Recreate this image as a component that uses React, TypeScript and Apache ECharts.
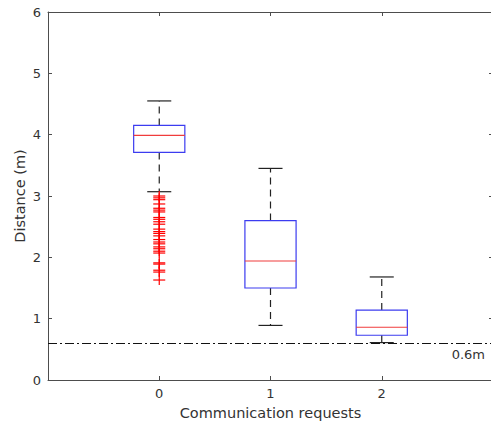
import React, { useEffect, useRef } from "react";
import * as echarts from "echarts";

const categories = [0, 1, 2];
// [min whisker, q1, median, q3, max whisker]
const boxStats = [
  [3.07, 3.71, 3.99, 4.15, 4.55],
  [0.89, 1.5, 1.94, 2.6, 3.45],
  [0.61, 0.73, 0.86, 1.14, 1.68],
];
const outliers0 = [
  3.0, 2.97, 2.94, 2.87, 2.8, 2.77, 2.74, 2.65, 2.62, 2.58, 2.54, 2.46, 2.42,
  2.39, 2.35, 2.29, 2.25, 2.22, 2.17, 2.14, 2.1, 2.07, 1.91, 1.89, 1.79, 1.76,
  1.63,
];
const thresholdValue = 0.6;
const thresholdLabel = "0.6m";
const yTicks = [0, 1, 2, 3, 4, 5, 6];

const FONT = "DejaVu Sans";
const AXIS_COLOR = "#4d4d4d";
const TEXT_COLOR = "#333333";

export default function App() {
  const ref = useRef<HTMLDivElement>(null);
  useEffect(() => {
    if (!ref.current) return;
    const chart = echarts.init(ref.current, null, { renderer: "svg" });
    const boxData = categories.map((c, i) => [c, ...boxStats[i]]);
    const outlierData = outliers0.map((v) => [categories[0], v]);
    const BOX_HALF = 0.23;
    const CAP_HALF = 0.108;
    const whiskerColor = "#222222";
    const frameLine = { show: true, onZero: false, lineStyle: { color: AXIS_COLOR, width: 1 } };
    const tick = { show: true, inside: true, length: 4, lineStyle: { color: AXIS_COLOR } };
    chart.setOption({
      animation: false,
      textStyle: { fontFamily: FONT },
      grid: { left: 48, top: 12, width: 445, height: 368, containLabel: false, outerBoundsMode: "none" },
      xAxis: [
        {
          type: "value",
          min: -1,
          max: 3,
          interval: 1,
          position: "bottom",
          axisLine: frameLine,
          axisTick: tick,
          splitLine: { show: false },
          axisLabel: {
            color: TEXT_COLOR,
            fontSize: 13,
            fontFamily: FONT,
            margin: 7,
            formatter: (v: number) => (categories.includes(v) ? String(v) : ""),
          },
          name: "Communication requests",
          nameLocation: "middle",
          nameGap: 25,
          nameMoveOverlap: false,
          nameTextStyle: { color: TEXT_COLOR, fontSize: 14.5, fontFamily: FONT },
        },
        {
          type: "value",
          min: -1,
          max: 3,
          interval: 1,
          position: "top",
          axisLine: frameLine,
          axisTick: tick,
          splitLine: { show: false },
          axisLabel: { show: false },
        },
      ],
      yAxis: [
        {
          type: "value",
          min: yTicks[0],
          max: yTicks[yTicks.length - 1],
          interval: 1,
          position: "left",
          axisLine: frameLine,
          axisTick: tick,
          splitLine: { show: false },
          axisLabel: { color: TEXT_COLOR, fontSize: 13, fontFamily: FONT, margin: 7 },
          name: "Distance (m)",
          nameLocation: "middle",
          nameGap: 21,
          nameMoveOverlap: false,
          nameTextStyle: { color: TEXT_COLOR, fontSize: 14.5, fontFamily: FONT },
        },
        {
          type: "value",
          min: yTicks[0],
          max: yTicks[yTicks.length - 1],
          interval: 1,
          position: "right",
          axisLine: frameLine,
          axisTick: tick,
          splitLine: { show: false },
          axisLabel: { show: false },
        },
      ],
      series: [
        {
          type: "custom",
          xAxisIndex: 0,
          yAxisIndex: 0,
          data: boxData,
          encode: { x: 0, y: [1, 2, 3, 4, 5] },
          renderItem: (params: any, api: any) => {
            const x = api.value(0);
            const mn = api.value(1);
            const q1 = api.value(2);
            const md = api.value(3);
            const q3 = api.value(4);
            const mx = api.value(5);
            const p = (xx: number, yy: number) => api.coord([xx, yy]);
            const bl = p(x - BOX_HALF, q3);
            const br = p(x + BOX_HALF, q1);
            const c = p(x, 0);
            const yMn = p(x, mn)[1];
            const yQ1 = p(x, q1)[1];
            const yMd = p(x, md)[1];
            const yQ3 = p(x, q3)[1];
            const yMx = p(x, mx)[1];
            const capL = p(x - CAP_HALF, 0)[0];
            const capR = p(x + CAP_HALF, 0)[0];
            const dashStyle = { stroke: whiskerColor, lineWidth: 1.2, lineDash: [7, 5] };
            return {
              type: "group",
              children: [
                { type: "line", shape: { x1: c[0], y1: yQ3, x2: c[0], y2: yMx }, style: dashStyle },
                { type: "line", shape: { x1: c[0], y1: yQ1, x2: c[0], y2: yMn }, style: dashStyle },
                { type: "line", shape: { x1: capL, y1: yMx, x2: capR, y2: yMx }, style: { stroke: whiskerColor, lineWidth: 1.2 } },
                { type: "line", shape: { x1: capL, y1: yMn, x2: capR, y2: yMn }, style: { stroke: whiskerColor, lineWidth: 1.2 } },
                {
                  type: "rect",
                  shape: { x: bl[0], y: bl[1], width: br[0] - bl[0], height: br[1] - bl[1] },
                  style: { fill: "none", stroke: "#3c3cf0", lineWidth: 1.2 },
                },
                { type: "line", shape: { x1: bl[0], y1: yMd, x2: br[0], y2: yMd }, style: { stroke: "#f03c3c", lineWidth: 1.2 } },
              ],
            };
          },
          markLine: {
            silent: true,
            symbol: "none",
            lineStyle: { color: "#111111", type: [9, 3, 2, 3], width: 1 },
            label: {
              show: true,
              position: "insideEndBottom",
              formatter: thresholdLabel,
              color: TEXT_COLOR,
              fontSize: 13,
              fontFamily: FONT,
              distance: [8, 5],
            },
            data: [{ yAxis: thresholdValue }],
          },
          z: 3,
        },
        {
          type: "custom",
          xAxisIndex: 0,
          yAxisIndex: 0,
          data: outlierData,
          encode: { x: 0, y: 1 },
          renderItem: (params: any, api: any) => {
            const pt = api.coord([api.value(0), api.value(1)]);
            const s = { stroke: "#ff0000", lineWidth: 1.2 };
            return {
              type: "group",
              children: [
                { type: "line", shape: { x1: pt[0] - 6, y1: pt[1], x2: pt[0] + 6, y2: pt[1] }, style: s },
                { type: "line", shape: { x1: pt[0], y1: pt[1] - 5, x2: pt[0], y2: pt[1] + 5 }, style: s },
              ],
            };
          },
          z: 4,
        },
      ],
    });
    return () => chart.dispose();
  }, []);
  return <div ref={ref} style={{ width: 491, height: 422, position: "absolute", left: 0, top: 0 }} />;
}
